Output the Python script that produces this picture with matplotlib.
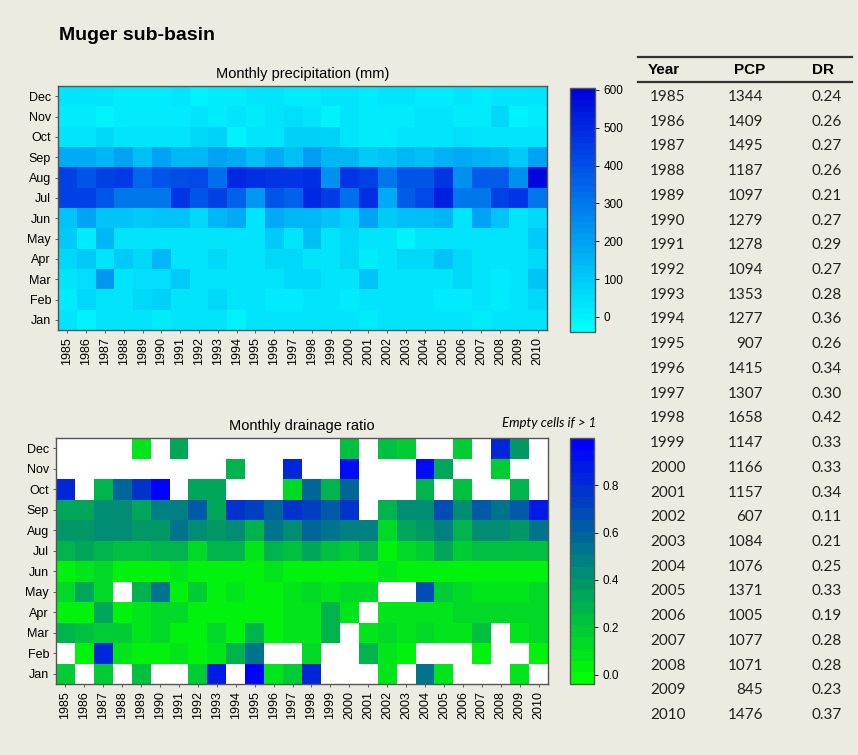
import numpy as np
import matplotlib
matplotlib.use("Agg")
import matplotlib.pyplot as plt
from matplotlib.colors import LinearSegmentedColormap

nan = np.nan

years = list(range(1985, 2011))
months = ["Jan", "Feb", "Mar", "Apr", "May", "Jun", "Jul", "Aug", "Sep", "Oct", "Nov", "Dec"]

# monthly precipitation (mm), one row per month Jan..Dec, columns 1985..2010
pcp_monthly = [
    [30, 5, 40, 40, 40, 10, 30, 30, 30, 5, 40, 40, 40, 40, 40, 30, 10, 40, 40, 40, 40, 40, 10, 40, 40, 40],
    [10, 60, 40, 40, 60, 80, 40, 30, 70, 40, 40, 10, 10, 40, 40, 10, 40, 40, 40, 40, 10, 10, 40, 10, 40, 60],
    [30, 50, 220, 30, 50, 50, 90, 30, 30, 40, 40, 40, 70, 70, 40, 40, 120, 40, 40, 40, 40, 60, 40, 10, 40, 110],
    [60, 90, 40, 90, 60, 140, 30, 30, 60, 40, 40, 60, 60, 40, 40, 60, 10, 40, 70, 70, 110, 70, 40, 40, 40, 70],
    [100, 10, 140, 30, 30, 30, 30, 30, 30, 30, 30, 100, 40, 130, 40, 60, 40, 40, 5, 30, 40, 40, 40, 40, 40, 100],
    [120, 200, 110, 110, 90, 120, 120, 70, 150, 170, 40, 180, 150, 150, 120, 80, 190, 90, 130, 130, 150, 40, 190, 120, 40, 60],
    [440, 430, 380, 300, 300, 310, 460, 380, 430, 360, 220, 380, 350, 500, 450, 320, 490, 170, 370, 420, 510, 300, 300, 440, 460, 310],
    [430, 380, 440, 450, 340, 380, 410, 420, 320, 500, 490, 470, 470, 480, 240, 460, 440, 300, 380, 390, 460, 240, 370, 370, 240, 580],
    [180, 170, 140, 200, 130, 190, 150, 140, 200, 180, 130, 180, 130, 210, 150, 150, 90, 110, 150, 130, 160, 180, 160, 150, 90, 200],
    [30, 30, 60, 30, 30, 30, 40, 60, 80, 5, 40, 40, 80, 80, 80, 30, 20, 10, 30, 30, 30, 50, 30, 30, 30, 30],
    [10, 20, 5, 10, 15, 10, 20, 30, 10, 30, 10, 30, 50, 40, 5, 30, 20, 10, 20, 30, 30, 10, 20, 70, 5, 20],
    [40, 40, 40, 10, 20, 10, 30, 5, 10, 20, 30, 30, 20, 20, 30, 30, 10, 40, 40, 10, 10, 30, 10, 30, 30, 30],
]

# monthly drainage ratio, nan where ratio > 1 (left empty)
dr_monthly = [
    [0.2, nan, 0.2, nan, 0.25, nan, nan, 0.2, 0.9, nan, 0.97, 0.1, 0.2, 0.85, nan, nan, nan, 0.1, nan, 0.55, 0.1, nan, nan, nan, 0.1, nan],
    [nan, 0.05, 0.85, 0.1, 0.05, 0.05, 0.1, 0.05, 0.1, 0.3, 0.55, nan, nan, 0.12, nan, nan, 0.3, 0.1, 0.05, nan, nan, nan, 0.05, nan, nan, 0.05],
    [0.28, 0.22, 0.2, 0.18, 0.08, 0.12, 0.05, 0.05, 0.12, 0.05, 0.3, 0.05, 0.08, 0.1, 0.3, nan, 0.08, 0.15, 0.1, 0.15, 0.1, 0.1, 0.22, nan, 0.1, 0.12],
    [0.05, 0.05, 0.35, 0.05, 0.1, 0.15, 0.15, 0.05, 0.05, 0.05, 0.05, 0.05, 0.1, 0.1, 0.3, 0.08, nan, 0.08, 0.08, 0.08, 0.08, 0.12, 0.12, 0.12, 0.15, 0.15],
    [0.12, 0.35, 0.15, nan, 0.3, 0.55, 0.05, 0.18, 0.05, 0.1, 0.05, 0.05, 0.1, 0.15, 0.08, 0.15, 0.15, nan, nan, 0.7, 0.2, 0.12, 0.08, 0.08, 0.08, 0.12],
    [0.05, 0.1, 0.15, 0.05, 0.05, 0.05, 0.08, 0.05, 0.05, 0.05, 0.05, 0.08, 0.05, 0.05, 0.05, 0.05, 0.05, 0.08, 0.05, 0.05, 0.05, 0.02, 0.05, 0.05, 0.05, 0.05],
    [0.28, 0.35, 0.3, 0.25, 0.25, 0.28, 0.3, 0.12, 0.3, 0.3, 0.08, 0.3, 0.22, 0.35, 0.22, 0.18, 0.3, 0.05, 0.15, 0.2, 0.35, 0.2, 0.25, 0.25, 0.25, 0.25],
    [0.4, 0.4, 0.45, 0.45, 0.4, 0.4, 0.55, 0.45, 0.4, 0.45, 0.3, 0.55, 0.45, 0.6, 0.55, 0.5, 0.5, 0.15, 0.35, 0.4, 0.5, 0.3, 0.45, 0.45, 0.4, 0.55],
    [0.35, 0.35, 0.45, 0.45, 0.35, 0.5, 0.5, 0.65, 0.35, 0.78, 0.75, 0.6, 0.8, 0.75, 0.62, 0.8, nan, 0.3, 0.45, 0.42, 0.7, 0.42, 0.65, 0.55, 0.62, 0.9],
    [0.85, nan, 0.3, 0.6, 0.8, 0.97, nan, 0.35, 0.35, nan, nan, nan, 0.15, 0.6, 0.3, 0.6, nan, nan, nan, 0.3, nan, 0.25, nan, nan, 0.3, nan],
    [nan, nan, nan, nan, nan, nan, nan, nan, nan, 0.3, nan, nan, 0.85, nan, nan, 0.95, nan, nan, nan, 0.95, 0.35, nan, nan, 0.2, nan, nan],
    [nan, nan, nan, nan, 0.1, nan, 0.35, nan, nan, nan, nan, nan, nan, nan, nan, 0.25, nan, 0.25, 0.2, nan, nan, 0.2, nan, 0.85, 0.38, nan],
]

# annual table
pcp_annual = [1344, 1409, 1495, 1187, 1097, 1279, 1278, 1094, 1353, 1277, 907, 1415, 1307,
              1658, 1147, 1166, 1157, 607, 1084, 1076, 1371, 1005, 1077, 1071, 845, 1476]
dr_annual = [0.24, 0.26, 0.27, 0.26, 0.21, 0.27, 0.29, 0.27, 0.28, 0.36, 0.26, 0.34, 0.30,
             0.42, 0.33, 0.33, 0.34, 0.11, 0.21, 0.25, 0.33, 0.19, 0.28, 0.28, 0.23, 0.37]

W, H = 858, 755
BG = "#ebebe1"
SANS = ["Liberation Sans", "DejaVu Sans"]
plt.rcParams["font.family"] = SANS

fig = plt.figure(figsize=(W / 100, H / 100), dpi=100, facecolor=BG)


def box(x0, y0, x1, y1):
    # pixel box (top-left origin) -> figure fraction rect
    return [x0 / W, 1 - y1 / H, (x1 - x0) / W, (y1 - y0) / H]


cmap_pcp = LinearSegmentedColormap.from_list("pcp", ["#00ffff", "#0000dd"], N=40)
cmap_dr = LinearSegmentedColormap.from_list("dr", ["#00ff00", "#008080", "#0000ff"], N=21)


def heatmap(rect, crect, data, cmap, vmin, vmax, cticks, clabels, title):
    ax = fig.add_axes(rect)
    ax.set_facecolor("white")
    xe = np.arange(len(years) + 1)
    ye = np.arange(len(months) + 1)
    mesh = ax.pcolormesh(xe, ye, np.array(data, dtype=float), cmap=cmap,
                         vmin=vmin, vmax=vmax, shading="flat")
    ax.set_xticks(np.arange(len(years)) + 0.5)
    ax.set_xticklabels([str(y) for y in years], rotation=90, fontsize=9)
    ax.set_yticks(np.arange(len(months)) + 0.5)
    ax.set_yticklabels(months, fontsize=9)
    ax.tick_params(length=2, width=0.6, color="#444444", pad=3)
    for s in ax.spines.values():
        s.set_color("#555555")
        s.set_linewidth(1.0)
    ax.set_title(title, fontsize=10.5, pad=6)
    cax = fig.add_axes(crect)
    cb = fig.colorbar(mesh, cax=cax)
    cb.set_ticks(cticks)
    cb.set_ticklabels(clabels)
    cb.outline.set_edgecolor("#555555")
    cb.outline.set_linewidth(1.0)
    cax.tick_params(length=3, width=0.6, labelsize=8.5, pad=3)
    return ax


heatmap(box(58, 86, 547, 330), box(570, 88, 595, 332), pcp_monthly, cmap_pcp, -40, 605,
        [0, 100, 200, 300, 400, 500, 600], ["0", "100", "200", "300", "400", "500", "600"],
        "Monthly precipitation (mm)")

heatmap(box(56, 438, 548, 684), box(570, 438, 594, 684), dr_monthly, cmap_dr, -0.04, 1.0,
        [0.0, 0.2, 0.4, 0.6, 0.8], ["0.0", "0.2", "0.4", "0.6", "0.8"],
        "Monthly drainage ratio")

fig.text(59 / W, 1 - 35 / H, "Muger sub-basin", fontsize=14, fontweight="bold", va="center")
fig.text(596 / W, 1 - 423 / H, "Empty cells if > 1", fontsize=9.5, style="italic",
         family=["Lato", "DejaVu Sans"], ha="right", va="center")

# table on the right
lines = fig.add_axes([0, 0, 1, 1], facecolor="none")
lines.set_xlim(0, W)
lines.set_ylim(H, 0)
lines.axis("off")
lines.plot([638, 852], [57, 57], color="#333333", lw=1.6)
lines.plot([638, 852], [82, 82], color="#333333", lw=1.6)

hdr = dict(fontsize=11, fontweight="bold", va="center")
lines.text(648, 70, "Year", ha="left", **hdr)
lines.text(765, 70, "PCP", ha="right", **hdr)
lines.text(823, 70, "DR", ha="center", **hdr)

row_font = dict(fontsize=11, va="center", family=["Lato", "DejaVu Sans"], color="#222222")
for i, (yr, p, d) in enumerate(zip(years, pcp_annual, dr_annual)):
    y = 97 + i * 24.72
    lines.text(650, y, str(yr), ha="left", **row_font)
    lines.text(763, y, str(p), ha="right", **row_font)
    lines.text(842, y, f"{d:.2f}", ha="right", **row_font)

fig.savefig("out.png", dpi=100, facecolor=BG)
